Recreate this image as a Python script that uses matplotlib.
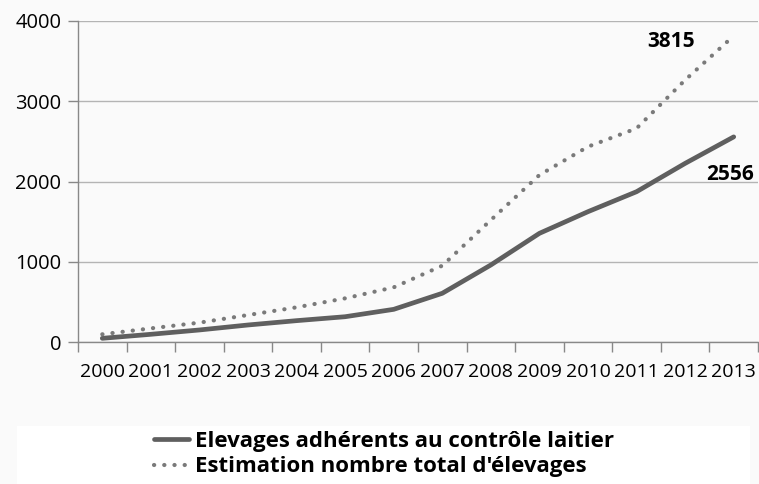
import matplotlib
matplotlib.use("Agg")
import matplotlib.pyplot as plt
from matplotlib.ticker import FixedLocator
from matplotlib.patches import Rectangle
import numpy as np

years = ["2000", "2001", "2002", "2003", "2004", "2005", "2006",
         "2007", "2008", "2009", "2010", "2011", "2012", "2013"]
adherents = [46, 96, 150, 212, 266, 315, 407, 607, 960, 1354, 1624, 1873, 2226, 2556]
estimation = [96, 170, 241, 336, 432, 544, 681, 951, 1520, 2081, 2434, 2662, 3265, 3815]
label_adh = "Elevages adhérents au contrôle laitier"
label_est = "Estimation nombre total d'élevages"
y_ticks = [0, 1000, 2000, 3000, 4000]

plt.rcParams['font.family'] = ['Open Sans', 'DejaVu Sans']

W, H = 759, 484
fig = plt.figure(figsize=(W / 100, H / 100), dpi=100, facecolor="#fafafa")
ax = fig.add_axes([78 / W, 1 - 342 / H, (758 - 78) / W, (342 - 21) / H])
ax.set_facecolor("#fafafa")

x = np.arange(len(years))
ax.plot(x, adherents, color="#5f5f5f", lw=3.4, solid_capstyle="round",
        label=label_adh, zorder=3)
ax.plot(x, estimation, color="#7a7a7a", lw=3.0, linestyle=(0, (0.05, 2.4)),
        dash_capstyle="round", label=label_est, zorder=3)

ax.set_xlim(-0.5, len(years) - 0.5)
ax.set_ylim(0, 4000)
ax.set_yticks(y_ticks)
ax.set_yticklabels([str(v) for v in y_ticks])
ax.yaxis.grid(True, color="#b4b4b4", lw=1.0)
ax.set_axisbelow(True)

ax.set_xticks(x)
ax.set_xticklabels(years)
ax.xaxis.set_minor_locator(FixedLocator(np.arange(-0.5, len(years), 1.0)))
ax.tick_params(axis="x", which="major", length=0, pad=15, labelsize=14, colors="black")
ax.tick_params(axis="x", which="minor", length=7, width=1, color="#888888", direction="out")
ax.tick_params(axis="y", length=7, width=1, color="#888888", pad=5, labelsize=14.5)

for s in ["top", "right"]:
    ax.spines[s].set_visible(False)
for s in ["left", "bottom"]:
    ax.spines[s].set_color("#888888")
    ax.spines[s].set_linewidth(1.0)

ax.annotate(str(estimation[-1]), xy=(x[-1], estimation[-1]), xytext=(-45, -4),
            textcoords="offset points", ha="center", va="center",
            fontsize=15, fontweight="bold")
ax.annotate(str(adherents[-1]), xy=(x[-1], adherents[-1]), xytext=(-3, -27),
            textcoords="offset points", ha="center", va="center",
            fontsize=15, fontweight="bold")

# legend box
fig.patches.append(Rectangle((17 / W, 0), (750 - 17) / W, (484 - 426) / H,
                             transform=fig.transFigure, facecolor="white",
                             edgecolor="none", zorder=0))
leg = fig.legend(loc="center", bbox_to_anchor=(384 / W, 1 - 454 / H),
                 frameon=False, handlelength=1.55, handletextpad=0.27,
                 labelspacing=0.22, borderpad=0,
                 prop={"weight": "bold", "size": 16})

fig.savefig("out.png", dpi=100, facecolor=fig.get_facecolor())
